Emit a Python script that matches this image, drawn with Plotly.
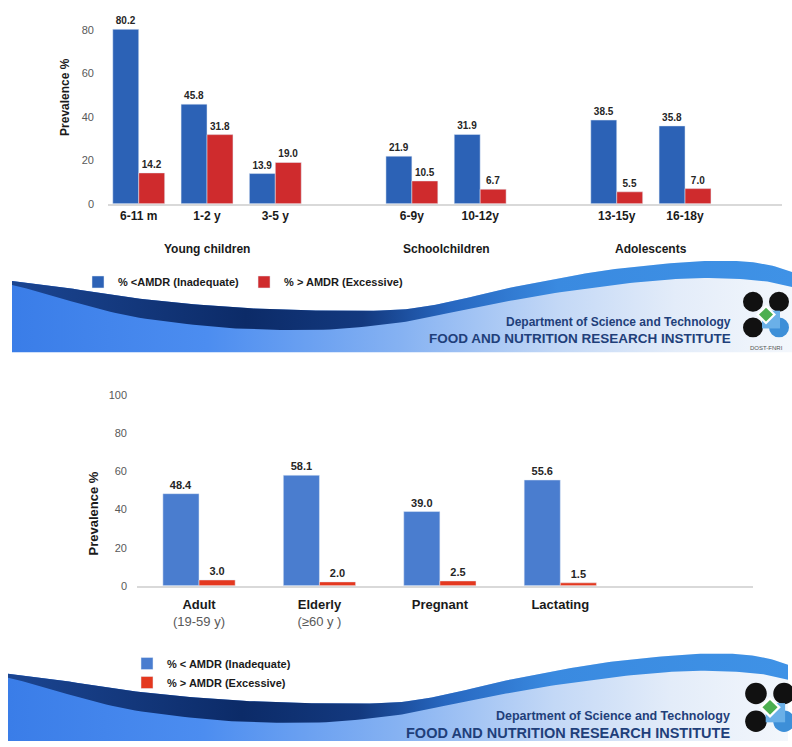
import numpy as np
import plotly.graph_objects as go

# ---------------- data ----------------
top_groups = ["Young children", "Schoolchildren", "Adolescents"]
top_categories = ["6-11 m", "1-2 y", "3-5 y", "6-9y", "10-12y", "13-15y", "16-18y"]
top_category_group = ["Young children", "Young children", "Young children",
                      "Schoolchildren", "Schoolchildren", "Adolescents", "Adolescents"]
top_inadequate = [80.2, 45.8, 13.9, 21.9, 31.9, 38.5, 35.8]
top_excessive = [14.2, 31.8, 19.0, 10.5, 6.7, 5.5, 7.0]
top_yticks = [0, 20, 40, 60, 80]

bottom_labels = ["Adult", "Elderly", "Pregnant", "Lactating"]
bottom_sublabels = ["(19-59 y)", "(≥60 y )", "", ""]
bottom_inadequate = [48.4, 58.1, 39.0, 55.6]
bottom_excessive = [3.0, 2.0, 2.5, 1.5]
bottom_yticks = [0, 20, 40, 60, 80, 100]

top_names = ["% &lt;AMDR (Inadequate)", "% &gt; AMDR (Excessive)"]
bottom_names = ["% &lt; AMDR (Inadequate)", "% &gt; AMDR (Excessive)"]

# ---------------- layout helpers ----------------
W, H = 792, 747
def px_x(p):
    return p / W
def px_y(p):
    return 1 - p / H

FONT = "Liberation Sans, Arial, sans-serif"
BLUE_T, RED_T = "#2c62b6", "#cf2b2d"
BLUE_B, RED_B = "#4a7dcf", "#e4381f"

# positions: one empty slot between groups
top_pos = [i + top_groups.index(g) for i, g in enumerate(top_category_group)]
bottom_pos = list(range(len(bottom_labels)))

fig = go.Figure()

# top chart bars
bw = 0.38
fig.add_trace(go.Bar(x=top_pos, y=top_inadequate, name=top_names[0], marker_color=BLUE_T,
                     width=bw, offset=-bw, xaxis="x", yaxis="y", legend="legend",
                     texttemplate="%{y:.1f}", textposition="outside", cliponaxis=False,
                     textfont=dict(size=10, color="#262626", weight="bold", family=FONT)))
fig.add_trace(go.Bar(x=top_pos, y=top_excessive, name=top_names[1], marker_color=RED_T,
                     width=bw, offset=0, xaxis="x", yaxis="y", legend="legend",
                     texttemplate="%{y:.1f}", textposition="outside", cliponaxis=False,
                     textfont=dict(size=10, color="#262626", weight="bold", family=FONT)))

# bottom chart bars
bw2 = 0.30
fig.add_trace(go.Bar(x=bottom_pos, y=bottom_inadequate, name=bottom_names[0], marker_color=BLUE_B,
                     width=bw2, offset=-bw2, xaxis="x2", yaxis="y2", legend="legend2",
                     texttemplate="%{y:.1f}", textposition="outside", cliponaxis=False,
                     textfont=dict(size=11, color="#262626", weight="bold", family=FONT)))
fig.add_trace(go.Bar(x=bottom_pos, y=bottom_excessive, name=bottom_names[1], marker_color=RED_B,
                     width=bw2, offset=0, xaxis="x2", yaxis="y2", legend="legend2",
                     texttemplate="%{y:.1f}", textposition="outside", cliponaxis=False,
                     textfont=dict(size=11, color="#262626", weight="bold", family=FONT)))

# ---------------- decorative slide banners ----------------
def densify(pts, n=10):
    P = np.array(pts, float)
    P = np.vstack([P[0], P, P[-1]])
    out = []
    for i in range(1, len(P) - 2):
        p0, p1, p2, p3 = P[i - 1], P[i], P[i + 1], P[i + 2]
        for t in np.linspace(0, 1, n, endpoint=False):
            t2, t3 = t * t, t * t * t
            out.append(0.5 * ((2 * p1) + (-p0 + p2) * t + (2 * p0 - 5 * p1 + 4 * p2 - p3) * t2
                              + (-p0 + 3 * p1 - 3 * p2 + p3) * t3))
    out.append(P[-2])
    return np.array(out)

band_top = [(0, 282), (48, 288), (121, 299), (188, 306), (248, 310), (318, 312), (388, 311),
            (438, 303), (488, 291), (538, 281), (588, 272), (638, 266), (688, 262),
            (728, 262), (758, 266), (780, 273)]
band_bot = [(0, 286), (28, 293), (68, 305), (121, 318), (188, 327), (248, 331), (318, 331),
            (388, 324), (438, 314), (488, 304), (538, 295), (588, 288), (638, 282),
            (688, 279), (728, 280), (758, 283), (780, 288)]

light_scale = [[0, "#3a7de8"], [0.25, "#4c8df0"], [0.5, "#86b2f2"], [0.7, "#c3d8f6"],
               [0.85, "#e3ecf9"], [1, "#f3f7fc"]]
band_scale = [[0, "#1b4591"], [0.3, "#0c2b68"], [0.45, "#13397f"], [0.56, "#2767c0"],
              [0.7, "#3a8ae0"], [1, "#3f92e6"]]

def add_banner(x0, dy, bottom):
    top = densify([(x + x0, y + dy) for x, y in band_top])
    bot = densify([(x + x0, y + dy) for x, y in band_bot])
    xr = band_top[-1][0] + x0
    lx = list(top[:, 0]) + [xr, x0, x0]
    ly = list(top[:, 1]) + [bottom, bottom, top[0, 1]]
    fig.add_trace(go.Scatter(x=lx, y=ly, fill="toself", mode="lines", line=dict(width=0),
                             fillgradient=dict(type="horizontal", colorscale=light_scale),
                             xaxis="x3", yaxis="y3", showlegend=False, hoverinfo="skip"))
    bx = list(top[:, 0]) + list(bot[::-1, 0]) + [top[0, 0]]
    by = list(top[:, 1]) + list(bot[::-1, 1]) + [top[0, 1]]
    fig.add_trace(go.Scatter(x=bx, y=by, fill="toself", mode="lines", line=dict(width=0),
                             fillgradient=dict(type="horizontal", colorscale=band_scale),
                             xaxis="x3", yaxis="y3", showlegend=False, hoverinfo="skip"))

add_banner(12, 0, 354)
add_banner(8, 397, 747)

fig.add_trace(go.Scatter(x=[0, W], y=[0, H], mode="markers", marker=dict(opacity=0),
                         xaxis="x3", yaxis="y3", showlegend=False, hoverinfo="skip"))

shapes = []
annotations = []

def logo(cx, cy, s):
    r = 10 * s
    d = 13 * s
    for (ox, oy, col) in [(-1, -1, "#111111"), (1, -1, "#111111"), (-1, 1, "#111111"), (1, 1, "#3d8fd8")]:
        shapes.append(dict(type="circle", xref="x3", yref="y3", x0=cx + ox * d - r, x1=cx + ox * d + r,
                           y0=cy + oy * d - r, y1=cy + oy * d + r, fillcolor=col, line=dict(width=0)))
    shapes.append(dict(type="rect", xref="x3", yref="y3", x0=cx - 4 * s, x1=cx + 14 * s,
                       y0=cy - 4 * s, y1=cy + 14 * s, fillcolor="#6ab0e8", line=dict(width=0)))
    rr = 10 * s
    shapes.append(dict(type="path", xref="x3", yref="y3",
                       path=f"M{cx},{cy-rr} L{cx+rr},{cy} L{cx},{cy+rr} L{cx-rr},{cy} Z",
                       fillcolor="white", line=dict(width=0)))
    rr = 7 * s
    shapes.append(dict(type="path", xref="x3", yref="y3",
                       path=f"M{cx},{cy-rr} L{cx+rr},{cy} L{cx},{cy+rr} L{cx-rr},{cy} Z",
                       fillcolor="#4caf50", line=dict(width=0)))

logo(766, 316, 1.0)
logo(770, 713, 1.08)

for (xe, y1, y2, f1, f2) in [(733, 323, 340, 12, 13.5), (732, 722, 739, 12.5, 14.5)]:
    annotations.append(dict(xref="x3", yref="y3", x=xe, y=y1, xanchor="right", yanchor="middle",
                            text="Department of Science and Technology", showarrow=False,
                            font=dict(family=FONT, size=f1, color="#1f3f7a", weight="bold")))
    annotations.append(dict(xref="x3", yref="y3", x=xe, y=y2, xanchor="right", yanchor="middle",
                            text="FOOD AND NUTRITION RESEARCH INSTITUTE", showarrow=False,
                            font=dict(family=FONT, size=f2, color="#1f3f7a", weight="bold")))
annotations.append(dict(xref="x3", yref="y3", x=766, y=350, text="DOST-FNRI", showarrow=False,
                        font=dict(family=FONT, size=6, color="#555555")))

# group labels (top chart)
for g in top_groups:
    xs = [p for p, cg in zip(top_pos, top_category_group) if cg == g]
    annotations.append(dict(xref="x", yref="paper", x=float(np.mean(xs)), y=px_y(250),
                            text=g, showarrow=False, yanchor="middle",
                            font=dict(family=FONT, size=12, color="#1a1a1a", weight="bold")))

# y-axis titles
annotations.append(dict(xref="paper", yref="paper", x=px_x(65), y=px_y(96), text="Prevalence %",
                        textangle=-90, showarrow=False, xanchor="center", yanchor="middle",
                        font=dict(family=FONT, size=12, color="#1a1a1a", weight="bold")))
annotations.append(dict(xref="paper", yref="paper", x=px_x(93), y=px_y(517), text="Prevalence %",
                        textangle=-90, showarrow=False, xanchor="center", yanchor="middle",
                        font=dict(family=FONT, size=13, color="#1a1a1a", weight="bold")))

bottom_ticktext = [f"<b>{a}</b>" + (f"<br><span style='color:#595959'>{b}</span>" if b else "")
                   for a, b in zip(bottom_labels, bottom_sublabels)]

fig.update_layout(
    width=W, height=H,
    margin=dict(l=0, r=0, t=0, b=0),
    paper_bgcolor="white", plot_bgcolor="rgba(0,0,0,0)",
    barmode="overlay",
    font=dict(family=FONT),
    xaxis=dict(domain=[px_x(108), px_x(782)], range=[-0.45, 9.42], anchor="y",
               tickmode="array", tickvals=top_pos, ticktext=top_categories,
               tickfont=dict(size=12, color="#1a1a1a", weight="bold"), ticklabelstandoff=0,
               showline=True, linecolor="#d9d9d9", linewidth=1.5, showgrid=False, zeroline=False,
               ticks=""),
    yaxis=dict(domain=[px_y(204), px_y(10)], range=[0, 88.2], anchor="x",
               tickmode="array", tickvals=top_yticks, showgrid=False, zeroline=False,
               tickfont=dict(size=11, color="#595959"), ticklabelstandoff=13, showline=False),
    xaxis2=dict(domain=[px_x(137), px_x(753)], range=[-0.515, 4.6], anchor="y2",
                tickmode="array", tickvals=bottom_pos, ticktext=bottom_ticktext,
                tickfont=dict(size=13, color="#1a1a1a"), ticklabelstandoff=6,
                showline=True, linecolor="#d9d9d9", linewidth=1.5, showgrid=False, zeroline=False,
                ticks=""),
    yaxis2=dict(domain=[px_y(590), px_y(394)], range=[0, 102], anchor="x2",
                tickmode="array", tickvals=bottom_yticks, showgrid=False, zeroline=False,
                tickfont=dict(size=11, color="#595959"), ticklabelstandoff=9, showline=False),
    xaxis3=dict(domain=[0, 1], range=[0, W], anchor="y3", visible=False, fixedrange=True),
    yaxis3=dict(domain=[0, 1], range=[H, 0], anchor="x3", visible=False, fixedrange=True),
    legend=dict(orientation="h", x=px_x(78), y=px_y(283), xanchor="left", yanchor="middle",
                font=dict(size=11, color="#1a1a1a", weight="bold"), bgcolor="rgba(0,0,0,0)",
                itemwidth=30),
    legend2=dict(orientation="v", x=px_x(127), y=px_y(654), xanchor="left", yanchor="top",
                 font=dict(size=11, color="#1a1a1a", weight="bold"), bgcolor="rgba(0,0,0,0)",
                 itemwidth=30, tracegroupgap=0),
    shapes=shapes,
    annotations=annotations,
    showlegend=True,
)

fig.write_html("out.html", config={"displayModeBar": False},
               post_script="document.body.style.margin='0';document.body.style.padding='0';")
